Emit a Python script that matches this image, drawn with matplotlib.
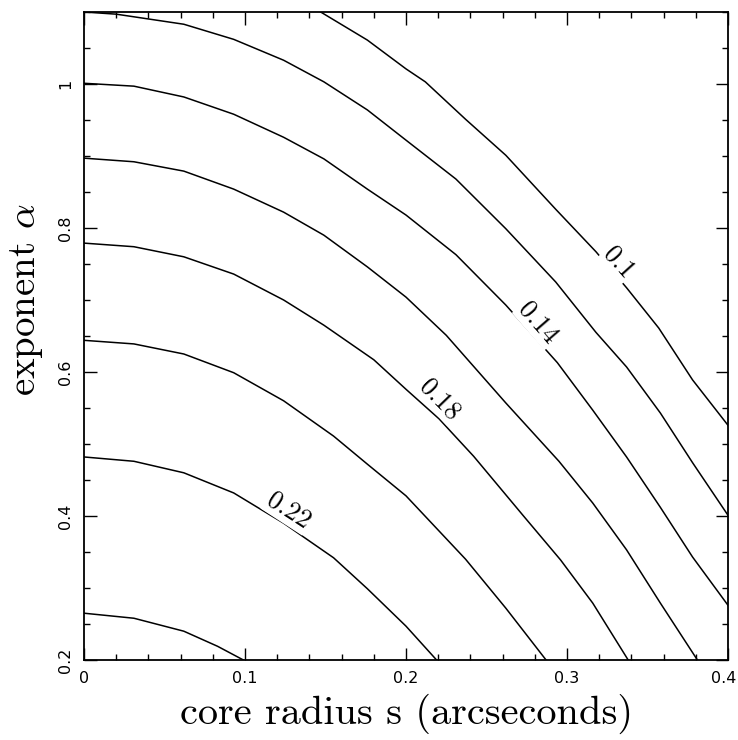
import numpy as np
import matplotlib.pyplot as plt
from matplotlib.ticker import MultipleLocator
from matplotlib.transforms import ScaledTranslation

plt.rcParams['mathtext.fontset'] = 'cm'

# contour lines: (core radius s, exponent alpha)
lev_010 = [(0.147, 1.100), (0.176, 1.061), (0.200, 1.021), (0.212, 1.003), (0.237, 0.951),
           (0.262, 0.901), (0.293, 0.826), (0.318, 0.767), (0.337, 0.717), (0.357, 0.661),
           (0.378, 0.589), (0.400, 0.526)]
lev_012 = [(0.000, 1.100), (0.020, 1.097), (0.062, 1.083), (0.093, 1.062), (0.124, 1.033),
           (0.149, 1.003), (0.176, 0.964), (0.200, 0.922), (0.231, 0.868), (0.262, 0.799),
           (0.293, 0.725), (0.318, 0.655), (0.337, 0.607), (0.358, 0.543), (0.378, 0.474),
           (0.400, 0.401)]
lev_014 = [(0.000, 1.001), (0.031, 0.997), (0.062, 0.982), (0.093, 0.958), (0.124, 0.926),
           (0.149, 0.896), (0.176, 0.854), (0.200, 0.818), (0.231, 0.763), (0.262, 0.693),
           (0.294, 0.613), (0.316, 0.547), (0.337, 0.482), (0.358, 0.412), (0.378, 0.343),
           (0.400, 0.276)]
lev_016 = [(0.000, 0.897), (0.031, 0.892), (0.062, 0.879), (0.093, 0.854), (0.124, 0.822),
           (0.149, 0.790), (0.176, 0.746), (0.200, 0.704), (0.225, 0.651), (0.262, 0.557),
           (0.295, 0.476), (0.316, 0.418), (0.337, 0.353), (0.358, 0.279), (0.381, 0.200)]
lev_018 = [(0.000, 0.779), (0.031, 0.774), (0.062, 0.760), (0.093, 0.736), (0.124, 0.700),
           (0.149, 0.665), (0.180, 0.617), (0.200, 0.576), (0.2205, 0.535), (0.242, 0.483),
           (0.273, 0.400), (0.296, 0.339), (0.316, 0.279), (0.338, 0.200)]
lev_020 = [(0.000, 0.644), (0.031, 0.639), (0.062, 0.625), (0.093, 0.599), (0.124, 0.560),
           (0.155, 0.511), (0.176, 0.472), (0.200, 0.428), (0.237, 0.340), (0.262, 0.272),
           (0.287, 0.200)]
lev_022 = [(0.000, 0.482), (0.031, 0.476), (0.062, 0.460), (0.093, 0.432), (0.124, 0.390),
           (0.155, 0.342), (0.176, 0.299), (0.200, 0.247), (0.219, 0.200)]
lev_024 = [(0.000, 0.265), (0.031, 0.258), (0.062, 0.240), (0.083, 0.219), (0.099, 0.200)]

curves = [lev_010, lev_012, lev_014, lev_016, lev_018, lev_020, lev_022, lev_024]

# inline labels: text, position, angle
label_txt = ['0.1', '0.14', '0.18', '0.22']
label_pos = [(0.332, 0.752), (0.282, 0.668), (0.221, 0.562), (0.127, 0.407)]
label_rot = [-48, -49, -46, -33]

xticks = [0, 0.1, 0.2, 0.3, 0.4]
xtick_labels = ['0', '0.1', '0.2', '0.3', '0.4']
yticks = [0.2, 0.4, 0.6, 0.8, 1.0]
ytick_labels = ['0.2', '0.4', '0.6', '0.8', '1']

fig = plt.figure(figsize=(7.38, 7.40), dpi=100)
ax = fig.add_axes([84/738, 1-660/740, 644/738, 648/740])

for c in curves:
    pts = np.array(c)
    ax.plot(pts[:, 0], pts[:, 1], color='black', lw=1.1, zorder=2)

for t, (x, y), r in zip(label_txt, label_pos, label_rot):
    ax.text(x, y, t, rotation=r, rotation_mode='anchor', ha='center', va='center',
            family='cmr10', fontsize=19, zorder=3,
            bbox=dict(facecolor='white', edgecolor='none', pad=1.0))

ax.set_xlim(0, 0.4)
ax.set_ylim(0.2, 1.1)
ax.set_xticks(xticks, xtick_labels)
ax.set_yticks(yticks, ytick_labels)
ax.xaxis.set_minor_locator(MultipleLocator(0.02))
ax.yaxis.set_minor_locator(MultipleLocator(0.05))

ax.tick_params(which='both', direction='in', top=True, right=True, width=1.0)
ax.tick_params(which='major', length=9, labelsize=11.5, pad=8)
ax.tick_params(which='minor', length=4.5)
for lab in ax.get_yticklabels():
    lab.set_rotation(90)
    lab.set_va('center')
# last x label sits at the figure edge, nudge it in a bit
last = ax.get_xticklabels()[-1]
last.set_transform(last.get_transform() + ScaledTranslation(-3/72, 0, fig.dpi_scale_trans))
for sp in ax.spines.values():
    sp.set_linewidth(1.3)

ax.set_xlabel('core radius s (arcseconds)', family='cmr10', fontsize=29)
ax.set_ylabel(r'exponent $\alpha$', family='cmr10', fontsize=28)
ax.xaxis.set_label_coords(0.5, -0.052)
ax.yaxis.set_label_coords(-0.06, 0.556)

fig.savefig('out.png', dpi=100)
